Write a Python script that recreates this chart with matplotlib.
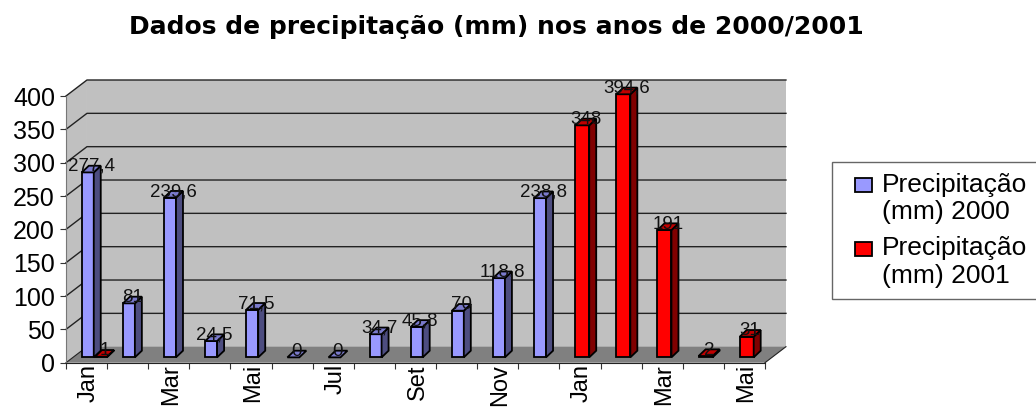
import numpy as np
import matplotlib
matplotlib.use("Agg")
import matplotlib.pyplot as plt
from matplotlib.patches import Polygon, Patch, Rectangle
from matplotlib.legend_handler import HandlerPatch

plt.rcParams['font.family'] = ['Liberation Sans', 'DejaVu Sans']

# data
months = ["Jan", "", "Mar", "", "Mai", "", "Jul", "", "Set", "", "Nov", "", "Jan", "", "Mar", "", "Mai"]
prec_2000 = [277.4, 81, 239.6, 24.5, 71.5, 0, 0, 34.7, 45.8, 70, 118.8, 238.8]
labels_2000 = ["277,4", "81", "239,6", "24,5", "71,5", "0", "0", "34,7", "45,8", "70", "118,8", "238,8"]
pos_2000 = [0, 1, 2, 3, 4, 5, 6, 7, 8, 9, 10, 11]
prec_2001 = [1, 348, 394.6, 191, 2, 31]
labels_2001 = ["1", "348", "394,6", "191", "2", "31"]
pos_2001 = [0.32, 12, 13, 14, 15, 16]
yticks = [0, 50, 100, 150, 200, 250, 300, 350, 400]

W, H = 1036, 409
fig = plt.figure(figsize=(W / 100, H / 100), dpi=100)
ax = fig.add_axes([66 / W, 1 - 362.7 / H, 699 / W, 266.7 / H])
ax.set_xlim(0, 17)
ax.set_ylim(0, 400)

# pseudo 3d depth, data units
wall_dx, wall_dy = 0.51, 24
bar_dx, bar_dy = 0.17, 10
base = 8
bar_start = 0.385


def poly(pts, face, edge="black", lw=1.3, z=2):
    ax.add_patch(Polygon(pts, closed=True, facecolor=face, edgecolor=edge, linewidth=lw,
                         zorder=z, clip_on=False, joinstyle="miter"))


# walls and floor
poly([(0, 0), (wall_dx, wall_dy), (wall_dx, 400 + wall_dy), (0, 400)], "#c0c0c0", "none", 0, 1)
poly([(wall_dx, wall_dy), (17 + wall_dx, wall_dy), (17 + wall_dx, 400 + wall_dy), (wall_dx, 400 + wall_dy)],
     "#c0c0c0", "none", 0, 1)
for t in yticks[1:]:
    ax.plot([0, wall_dx, 17 + wall_dx], [t, t + wall_dy, t + wall_dy], color="#222222", lw=1.0, zorder=1.5, clip_on=False)
poly([(0, 0), (17, 0), (17 + wall_dx, wall_dy), (wall_dx, wall_dy)], "#808080", "none", 0, 1.8)
ax.plot([0, wall_dx], [0, wall_dy], color="#222222", lw=0.8, zorder=1.9, clip_on=False)
ax.plot([17, 17 + wall_dx], [0, wall_dy], color="#222222", lw=0.8, zorder=1.9, clip_on=False)


def bar3d(k, v, width, front, side, top, label):
    x0 = k + bar_start
    x1 = x0 + width
    y1 = base + v
    if v > 0:
        poly([(x0, base), (x1, base), (x1, y1), (x0, y1)], front, z=3)
        poly([(x1, base), (x1 + bar_dx, base + bar_dy), (x1 + bar_dx, y1 + bar_dy), (x1, y1)], side, z=3)
    poly([(x0, y1), (x1, y1), (x1 + bar_dx, y1 + bar_dy), (x0 + bar_dx, y1 + bar_dy)], top, z=3)
    ax.text((x0 + x1 + bar_dx) / 2, y1 + 9, label, ha="center", va="center", fontsize=13.5,
            color="#111111", zorder=4)


for k, v, s in zip(pos_2000, prec_2000, labels_2000):
    bar3d(k, v, 0.29, "#9999ff", "#4d4d80", "#7a7acc", s)
for k, v, s in zip(pos_2001, prec_2001, labels_2001):
    w = 0.29 if k < 1 else 0.34
    bar3d(k, v, w, "#ff0000", "#800000", "#c00000", s)

# axes
for name in ["top", "right"]:
    ax.spines[name].set_visible(False)
ax.spines["left"].set_color("#777777")
ax.spines["bottom"].set_color("#222222")
for name in ["left", "bottom"]:
    ax.spines[name].set_zorder(2)
ax.patch.set_visible(False)
ax.set_yticks(yticks)
ax.tick_params(axis="y", labelsize=18, length=4.5, width=0.8, pad=3.5, color="#333333")
ax.set_xticks(np.arange(17) + 0.55)
ax.set_xticklabels(months, rotation=90, fontsize=17)
ax.set_xticks(np.arange(18), minor=True)
ax.tick_params(axis="x", which="major", length=0, pad=1)
ax.tick_params(axis="x", which="minor", length=4, width=0.8, color="#333333")

fig.text(496 / W, 1 - 27 / H, "Dados de precipitação (mm) nos anos de 2000/2001", ha="center", va="center",
         fontsize=18, fontweight="bold", family="DejaVu Sans")


def legend_box(legend, orig_handle, xdescent, ydescent, width, height, fontsize):
    # small swatch next to the first text line
    return Rectangle((9 - xdescent, 11.5 - ydescent), 12.2, 10)


# legend box runs off the right edge like the original
handles = [Patch(facecolor="#9999ff", edgecolor="black", linewidth=1.3),
           Patch(facecolor="#ff0000", edgecolor="black", linewidth=1.3)]
leg = fig.legend(handles, ["Precipitação\n(mm) 2000", "Precipitação\n(mm) 2001"],
                 loc="upper left", bbox_to_anchor=(832 / W, 1 - 162 / H), bbox_transform=fig.transFigure,
                 borderaxespad=0, fontsize=19, fancybox=False, framealpha=1, edgecolor="#666666",
                 handlelength=1.3, handleheight=0.7, handletextpad=0.2, labelspacing=0.46,
                 borderpad=0.4, handler_map={Patch: HandlerPatch(patch_func=legend_box)})
leg.get_frame().set_linewidth(1.0)

plt.savefig("out.png", dpi=100)
